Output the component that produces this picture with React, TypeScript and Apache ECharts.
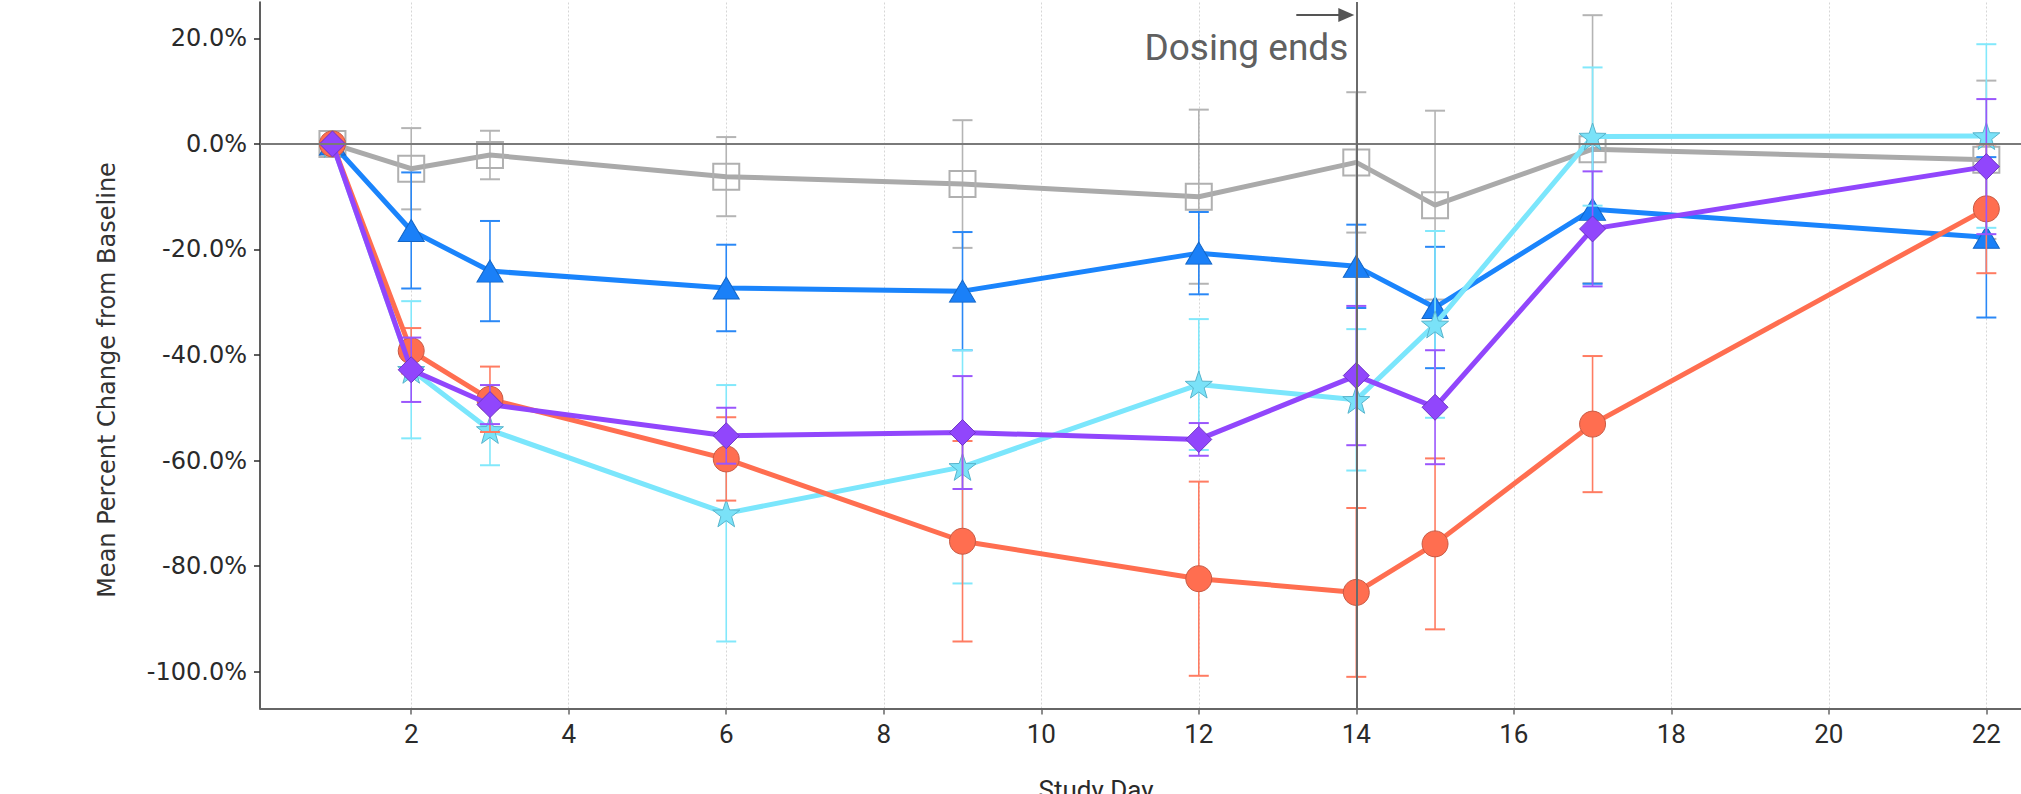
import React, { useEffect, useRef } from 'react';
import * as echarts from 'echarts';

const DAYS = [1, 2, 3, 6, 9, 12, 14, 15, 17, 22];
const X_TICKS = [2, 4, 6, 8, 10, 12, 14, 16, 18, 20, 22];
const Y_TICKS = [-100, -80, -60, -40, -20, 0, 20];
const DOSING_END_DAY = 14;

const GREY_MEAN = [0, -4.7, -2.1, -6.2, -7.6, -10.0, -3.5, -11.6, -1.0, -3.0];
const GREY_SD = [0, 7.7, 4.6, 7.5, 12.1, 16.5, 13.3, 17.9, 25.4, 15.0];

const BLUE_MEAN = [0, -16.4, -24.1, -27.3, -27.9, -20.7, -23.2, -31.0, -12.4, -17.7];
const BLUE_SD = [0, 11.0, 9.5, 8.2, 11.2, 7.8, 7.9, 11.5, 14.1, 15.2];

const ORANGE_MEAN = [0, -39.2, -48.4, -59.7, -75.3, -82.4, -85.0, -75.8, -53.1, -12.3];
const ORANGE_SD = [0, 4.3, 6.2, 7.9, 19.0, 18.4, 16.0, 16.2, 12.9, 12.2];

const PURPLE_MEAN = [0, -42.8, -49.4, -55.3, -54.7, -56.0, -43.9, -49.9, -16.1, -4.3];
const PURPLE_SD = [0, 6.1, 3.7, 5.3, 10.7, 3.1, 13.2, 10.8, 10.9, 12.8];

const CYAN_MEAN = [0, -42.8, -54.2, -70.0, -61.2, -45.6, -48.5, -34.2, 1.4, 1.5];
const CYAN_SD = [0, 13.0, 6.7, 24.3, 22.1, 12.4, 13.4, 17.7, 13.1, 17.4];

const STAR =
  'path://M50,2 L61.8,36.2 L97.6,36.9 L69,58.8 L79.4,93.1 L50,72.6 L20.6,93.1 L31,58.8 L2.4,36.9 L38.2,36.2 Z';

type Group = {
  name: string;
  mean: number[];
  sd: number[];
  line: string;
  fill: string;
  border: string;
  err: string;
  symbol: string;
  size: number | number[];
  borderWidth: number;
};

// drawing order (later = on top)
const GROUPS: Group[] = [
  { name: 'Placebo', mean: GREY_MEAN, sd: GREY_SD, line: '#aaaaaa', fill: 'rgba(0,0,0,0)', border: '#b0b0b0', err: '#b4b4b4', symbol: 'rect', size: 26, borderWidth: 2 },
  { name: 'Blue', mean: BLUE_MEAN, sd: BLUE_SD, line: '#1a84fc', fill: '#1a80f8', border: '#1466c6', err: '#2a88f6', symbol: 'triangle', size: [26, 22], borderWidth: 1 },
  { name: 'Cyan', mean: CYAN_MEAN, sd: CYAN_SD, line: '#7be6fc', fill: '#7ae2f8', border: '#58b4cc', err: '#82e8fb', symbol: STAR, size: 27, borderWidth: 1 },
  { name: 'Orange', mean: ORANGE_MEAN, sd: ORANGE_SD, line: '#ff6e50', fill: '#ff6e50', border: '#c85a44', err: '#ff7c62', symbol: 'circle', size: 26, borderWidth: 1 },
  { name: 'Purple', mean: PURPLE_MEAN, sd: PURPLE_SD, line: '#9146fc', fill: '#9146fc', border: '#6e35c6', err: '#9a56fc', symbol: 'diamond', size: 26, borderWidth: 1 },
];

const GRID = { left: 260, right: 0, top: 2, bottom: 85.5 };

export default function App() {
  const ref = useRef<HTMLDivElement>(null);

  useEffect(() => {
    document.body.style.margin = '0';
    if (!ref.current) return;
    const chart = echarts.init(ref.current, null, { renderer: 'svg' });

    const series: any[] = [];

    // vertical gridlines
    series.push({
      type: 'line',
      data: [],
      z: 0,
      silent: true,
      markLine: {
        z: 0,
        silent: true,
        symbol: ['none', 'none'],
        label: { show: false },
        lineStyle: { color: '#d6d6d6', type: [2, 2], width: 1 },
        data: X_TICKS.map((t) => ({ xAxis: t })),
      },
    });

    GROUPS.forEach((g, gi) => {
      series.push({
        type: 'custom',
        name: g.name + ' SD',
        z: 2 + gi * 2,
        silent: true,
        data: DAYS.map((d, i) => [d, g.mean[i] - g.sd[i], g.mean[i] + g.sd[i]]),
        encode: { x: 0, y: [1, 2] },
        renderItem: (params: any, api: any) => {
          const x = api.value(0);
          const lo = api.coord([x, api.value(1)]);
          const hi = api.coord([x, api.value(2)]);
          const st = { stroke: g.err, lineWidth: 1.6, fill: null };
          const cap = { stroke: g.err, lineWidth: 2, fill: null };
          return {
            type: 'group',
            children: [
              { type: 'line', shape: { x1: hi[0], y1: hi[1], x2: lo[0], y2: lo[1] }, style: st },
              { type: 'line', shape: { x1: hi[0] - 10, y1: hi[1], x2: hi[0] + 10, y2: hi[1] }, style: cap },
              { type: 'line', shape: { x1: lo[0] - 10, y1: lo[1], x2: lo[0] + 10, y2: lo[1] }, style: cap },
            ],
          };
        },
      });
      series.push({
        type: 'line',
        name: g.name,
        z: 3 + gi * 2,
        data: DAYS.map((d, i) => [d, g.mean[i]]),
        symbol: g.symbol,
        symbolSize: g.size,
        showAllSymbol: true,
        lineStyle: { color: g.line, width: 5 },
        itemStyle: { color: g.fill, borderColor: g.border, borderWidth: g.borderWidth },
        emphasis: { disabled: true },
      });
    });

    // zero line and dosing-end line
    series.push({
      type: 'line',
      data: [],
      z: 20,
      silent: true,
      markLine: {
        z: 20,
        silent: true,
        symbol: ['none', 'none'],
        label: { show: false },
        data: [
          { yAxis: 0, lineStyle: { color: '#7a7a7a', width: 2, type: 'solid' } },
          { xAxis: DOSING_END_DAY, lineStyle: { color: '#6a6a6a', width: 2, type: 'solid' } },
        ],
      },
    });

    const option: any = {
      animation: false,
      backgroundColor: '#ffffff',
      grid: GRID,
      xAxis: {
        type: 'value',
        min: 0.08,
        max: 22.44,
        axisLine: { show: true, onZero: false, lineStyle: { color: '#666666', width: 2 } },
        axisTick: { show: true, customValues: X_TICKS, length: 6, lineStyle: { color: '#666666', width: 1.5 } },
        axisLabel: {
          customValues: X_TICKS,
          fontFamily: 'Roboto',
          fontSize: 26,
          color: '#2a2a2a',
          margin: 12,
        },
        splitLine: { show: false },
      },
      yAxis: {
        type: 'value',
        min: -107.0,
        max: 26.9,
        axisLine: { show: true, onZero: false, lineStyle: { color: '#2a2a2a', width: 1.5 } },
        axisTick: { show: true, customValues: Y_TICKS, length: 6, lineStyle: { color: '#2a2a2a', width: 1.5 } },
        axisLabel: {
          customValues: Y_TICKS,
          fontFamily: 'DejaVu Sans',
          fontSize: 24,
          color: '#2a2a2a',
          margin: 13,
          formatter: (v: number) => v.toFixed(1) + '%',
        },
        splitLine: { show: false },
      },
      series,
    };
    chart.setOption(option);

    const x14 = chart.convertToPixel({ xAxisIndex: 0 }, DOSING_END_DAY) as number;
    chart.setOption({
      graphic: [
        {
          type: 'text',
          x: 107,
          y: 380,
          rotation: Math.PI / 2,
          style: {
            text: 'Mean Percent Change from Baseline',
            fontFamily: 'DejaVu Sans',
            fontSize: 24,
            fill: '#333333',
            align: 'center',
            verticalAlign: 'middle',
          },
          silent: true,
        },
        {
          type: 'text',
          x: 1096,
          y: 777,
          style: {
            text: 'Study Day',
            fontFamily: 'Roboto',
            fontSize: 26,
            fill: '#2a2a2a',
            align: 'center',
            verticalAlign: 'top',
          },
          silent: true,
        },
        {
          type: 'text',
          x: x14 - 8,
          y: 47,
          style: {
            text: 'Dosing ends',
            fontFamily: 'Roboto',
            fontSize: 37,
            fill: '#606060',
            align: 'right',
            verticalAlign: 'middle',
          },
          silent: true,
        },
        {
          type: 'line',
          shape: { x1: x14 - 60, y1: 15, x2: x14 - 16, y2: 15 },
          style: { stroke: '#555555', lineWidth: 2 },
          silent: true,
        },
        {
          type: 'polygon',
          shape: { points: [[x14 - 18, 8], [x14 - 2, 15], [x14 - 18, 22]] },
          style: { fill: '#555555' },
          silent: true,
        },
      ],
    });

    return () => chart.dispose();
  }, []);

  return <div ref={ref} style={{ width: 2021, height: 794 }} />;
}
